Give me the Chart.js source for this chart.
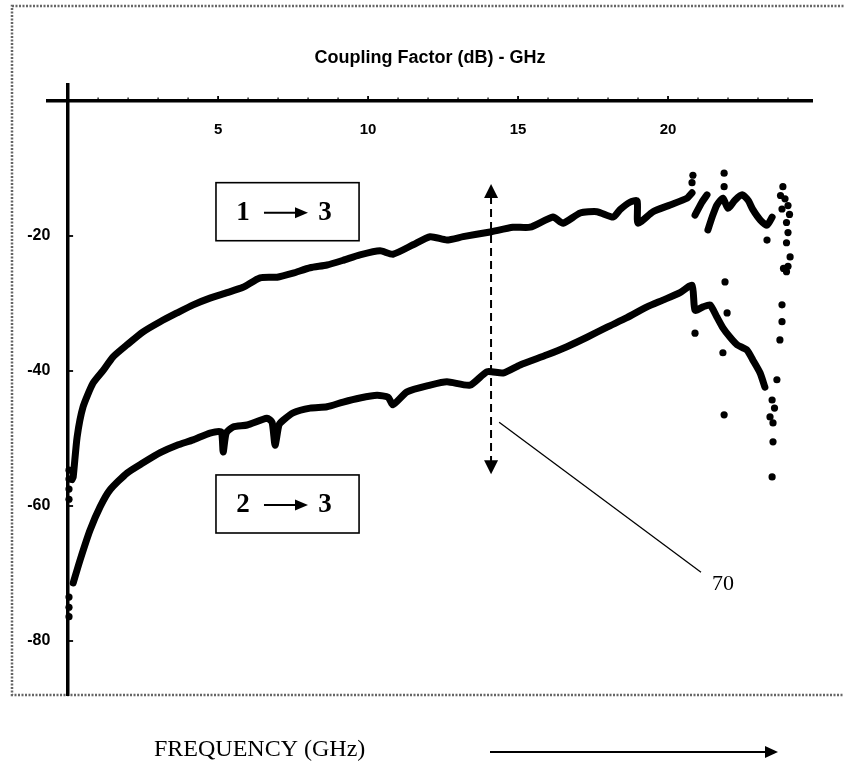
<!DOCTYPE html>
<html><head><meta charset="utf-8">
<script src="https://cdn.jsdelivr.net/npm/chart.js@4/dist/chart.umd.min.js"></script>
<style>html,body{margin:0;padding:0;background:#fff;}canvas{display:block;}</style>
</head><body>
<canvas id="c" width="844" height="783"></canvas>
<script>
// ---------- text ----------
const chartTitle = 'Coupling Factor (dB) - GHz';
const bottomLabel = 'FREQUENCY (GHz)';
const pathLabels = [['1', '3'], ['2', '3']];
const calloutLabel = '70';

// ---------- ticks ----------
const xTickValues = [1,2,3,4,5,6,7,8,9,10,11,12,13,14,15,16,17,18,19,20,21,22,23,24];
const xTickLabels = [5, 10, 15, 20];
const yTickLabels = [-20, -40, -60, -80];

// ---------- series 1 -> 3 ----------
const freq13 = [0.13,0.17,0.30,0.50,0.83,1.17,1.50,1.97,2.50,3.07,3.63,4.17,4.73,5.30,5.83,6.40,6.97,7.50,8.07,8.63,9.17,9.73,10.40,10.83,11.50,12.07,12.63,13.17,14.07,14.83,15.40,16.17,16.50,17.07,17.63,18.17,18.40,18.73,18.97,19.00,19.50,20.07,20.63,20.80,20.85,20.90,21.13,21.30,21.31,21.33,21.47,21.63,21.83,22.00,22.23,22.47,22.67,22.83,23.07,23.30,23.47];
const coupling13 = [-56.1,-55.7,-49.8,-45.3,-41.8,-39.9,-37.9,-36.1,-34.2,-32.7,-31.4,-30.2,-29.2,-28.4,-27.6,-26.2,-26.1,-25.5,-24.7,-24.3,-23.6,-22.8,-22.2,-22.7,-21.3,-20.1,-20.6,-20.1,-19.4,-18.7,-18.7,-17.2,-18.1,-16.6,-16.4,-17.2,-16.1,-15.0,-14.8,-18.1,-16.4,-15.4,-14.4,-13.6,null,-16.9,-15.0,-13.9,null,-19.1,-17.2,-15.4,-14.4,-15.9,-14.7,-13.9,-14.7,-16.1,-17.6,-18.4,-17.2];
const scatterFreq13 = [0.03,0.03,0.03,0.03,20.83,20.80,21.87,21.87,23.30,23.83,23.75,23.90,24.00,23.80,24.05,23.95,24.00,23.95,24.07,23.85,23.95,24.00];
const scatterVal13  = [-54.7,-56.0,-57.5,-59.0,-11.0,-12.1,-10.7,-12.7,-20.6,-12.7,-14.0,-14.5,-15.5,-16.0,-16.8,-18.0,-19.5,-21.0,-23.1,-24.8,-25.3,-24.5];

// ---------- series 2 -> 3 ----------
const freq23 = [0.17,0.40,0.73,1.07,1.40,1.97,2.50,3.07,3.63,4.17,4.73,5.10,5.17,5.27,5.50,5.97,6.63,6.80,6.90,7.03,7.17,7.50,8.07,8.63,9.17,9.73,10.30,10.67,10.83,11.30,12.07,12.63,13.40,13.97,14.50,15.07,15.97,16.63,17.30,17.97,18.63,19.30,19.83,20.40,20.80,20.90,21.17,21.40,21.63,21.83,22.07,22.30,22.63,22.83,23.07,23.23];
const coupling23 = [-71.4,-68.0,-63.6,-60.1,-57.6,-55.1,-53.6,-52.1,-51.0,-50.2,-49.2,-49.0,-52.0,-49.2,-48.3,-48.0,-47.0,-47.6,-51.0,-48.0,-47.3,-46.2,-45.5,-45.3,-44.6,-44.0,-43.6,-43.9,-45.0,-43.1,-42.1,-41.6,-42.1,-40.1,-40.3,-39.1,-37.6,-36.4,-35.0,-33.5,-32.1,-30.5,-29.5,-28.4,-27.3,-31.0,-30.5,-30.2,-32.0,-33.6,-35.0,-36.1,-36.9,-38.4,-40.3,-42.4];
const scatterFreq23 = [0.03,0.03,0.03,23.47,23.40,23.50,23.50,23.47,23.63,23.73,23.80,23.80,21.90,21.97,20.90,21.83,21.87,23.55];
const scatterVal23  = [-73.5,-75.0,-76.4,-44.3,-46.8,-47.7,-50.5,-55.7,-41.3,-35.4,-32.7,-30.2,-26.8,-31.4,-34.4,-37.3,-46.5,-45.5];

const pts = (xs, ys) => xs.map((x, i) => ({x: x, y: ys[i]}));

const FONT_SANS = 'Liberation Sans';
const FONT_SERIF = 'Liberation Serif';

function arrowHead(ctx, x, y, dir, len, half) {
  ctx.beginPath();
  if (dir === 'r') { ctx.moveTo(x, y); ctx.lineTo(x - len, y - half); ctx.lineTo(x - len, y + half); }
  if (dir === 'u') { ctx.moveTo(x, y); ctx.lineTo(x - half, y + len); ctx.lineTo(x + half, y + len); }
  if (dir === 'd') { ctx.moveTo(x, y); ctx.lineTo(x - half, y - len); ctx.lineTo(x + half, y - len); }
  ctx.closePath(); ctx.fill();
}

const decor = {
  id: 'decor',
  beforeDraw(chart) {
    const ctx = chart.ctx;
    ctx.save();
    ctx.strokeStyle = '#666';
    ctx.lineWidth = 2.5;
    ctx.setLineDash([2, 1.5]);
    ctx.strokeRect(12, 6, 860, 689);
    ctx.restore();
  },
  afterDatasetsDraw(chart) {
    // small tick marks: upward on the frequency axis, rightward on the dB axis
    const {ctx, scales: {x, y}} = chart;
    const y0 = y.getPixelForValue(0);
    const x0 = x.getPixelForValue(0);
    ctx.save();
    ctx.strokeStyle = '#000';
    x.ticks.forEach(t => {
      const px = x.getPixelForValue(t.value);
      const major = xTickLabels.includes(t.value);
      ctx.lineWidth = major ? 1.8 : 1.2;
      ctx.beginPath(); ctx.moveTo(px, y0); ctx.lineTo(px, y0 - (major ? 5 : 3.5)); ctx.stroke();
    });
    y.ticks.forEach(t => {
      const py = y.getPixelForValue(t.value);
      ctx.lineWidth = 1.8;
      ctx.beginPath(); ctx.moveTo(x0, py); ctx.lineTo(x0 + 5, py); ctx.stroke();
    });
    ctx.restore();
  },
  afterDraw(chart) {
    const {ctx, scales: {x, y}} = chart;
    ctx.save();
    ctx.fillStyle = '#000'; ctx.strokeStyle = '#000';

    // path label boxes
    const boxes = [[4.93, 9.70, -12.1, -20.7], [4.93, 9.70, -55.4, -64.0]];
    boxes.forEach((b, i) => {
      const l = x.getPixelForValue(b[0]), r = x.getPixelForValue(b[1]);
      const t = y.getPixelForValue(b[2]), bt = y.getPixelForValue(b[3]);
      ctx.lineWidth = 1.6; ctx.setLineDash([]);
      ctx.strokeRect(l, t, r - l, bt - t);
      const cy = (t + bt) / 2 + 1;
      ctx.font = 'bold 27px "' + FONT_SERIF + '"';
      ctx.textAlign = 'center'; ctx.textBaseline = 'middle';
      ctx.fillText(pathLabels[i][0], l + 27, cy);
      ctx.fillText(pathLabels[i][1], r - 34, cy);
      ctx.lineWidth = 2;
      ctx.beginPath(); ctx.moveTo(l + 48, cy); ctx.lineTo(l + 80, cy); ctx.stroke();
      arrowHead(ctx, l + 92, cy, 'r', 13, 5.5);
    });

    // dashed double arrow (70)
    const ax = x.getPixelForValue(14.1);
    const aTop = y.getPixelForValue(-12.3), aBot = y.getPixelForValue(-55.3);
    ctx.lineWidth = 2; ctx.setLineDash([8, 5]);
    ctx.beginPath(); ctx.moveTo(ax, aTop + 12); ctx.lineTo(ax, aBot - 12); ctx.stroke();
    ctx.setLineDash([]);
    arrowHead(ctx, ax, aTop, 'u', 14, 7);
    arrowHead(ctx, ax, aBot, 'd', 14, 7);

    // callout line + label
    ctx.lineWidth = 1.3;
    ctx.beginPath();
    ctx.moveTo(x.getPixelForValue(14.37), y.getPixelForValue(-47.6));
    ctx.lineTo(x.getPixelForValue(21.1), y.getPixelForValue(-69.8));
    ctx.stroke();
    ctx.font = '22px "' + FONT_SERIF + '"';
    ctx.textAlign = 'left'; ctx.textBaseline = 'middle';
    ctx.fillText(calloutLabel, 712, 584);

    // bottom frequency label + arrow
    ctx.font = '24px "' + FONT_SERIF + '"';
    ctx.textAlign = 'left'; ctx.textBaseline = 'middle';
    ctx.fillText(bottomLabel, 154, 750);
    ctx.lineWidth = 2;
    ctx.beginPath(); ctx.moveTo(490, 752); ctx.lineTo(768, 752); ctx.stroke();
    arrowHead(ctx, 778, 752, 'r', 13, 6);
    ctx.restore();
  }
};

const lineStyle = {showLine: true, spanGaps: false, borderColor: '#000', borderWidth: 7, pointRadius: 0,
  tension: 0.2, borderJoinStyle: 'round', borderCapStyle: 'round'};
const dotStyle = {showLine: false, pointRadius: 3.6, backgroundColor: '#000', borderColor: '#000', borderWidth: 0};

new Chart(document.getElementById('c'), {
  type: 'scatter',
  data: {
    datasets: [
      Object.assign({data: pts(freq13, coupling13)}, lineStyle),
      Object.assign({data: pts(freq23, coupling23)}, lineStyle),
      Object.assign({data: pts(scatterFreq13, scatterVal13)}, dotStyle),
      Object.assign({data: pts(scatterFreq23, scatterVal23)}, dotStyle)
    ]
  },
  options: {
    responsive: false, animation: false, devicePixelRatio: 1,
    layout: {padding: {left: 48, right: 32, top: 40, bottom: 88}},
    plugins: {
      legend: {display: false}, tooltip: {enabled: false},
      title: {display: true, text: chartTitle, color: '#000',
        font: {family: FONT_SANS, size: 18, weight: 'bold'}, padding: {top: 7, bottom: 16.4}}
    },
    scales: {
      x: {
        type: 'linear', position: {y: 0}, min: -0.67, max: 24.8,
        afterBuildTicks: s => { s.ticks = xTickValues.map(v => ({value: v})); },
        ticks: {autoSkip: false, maxRotation: 0, color: '#000', padding: 20,
          font: {family: FONT_SANS, size: 15, weight: 'bold'},
          callback: v => xTickLabels.includes(v) ? String(v) : ''},
        grid: {drawOnChartArea: false, drawTicks: false},
        border: {color: '#000', width: 3.5}
      },
      y: {
        type: 'linear', position: {x: 0}, min: -88, max: 2.37,
        afterBuildTicks: s => { s.ticks = yTickLabels.map(v => ({value: v})); },
        ticks: {color: '#000', font: {family: FONT_SANS, size: 16, weight: 'bold'},
          callback: v => String(v) + '    '},
        grid: {drawOnChartArea: false, drawTicks: false},
        border: {color: '#000', width: 3.5}
      }
    }
  },
  plugins: [decor]
});
</script>
</body></html>
